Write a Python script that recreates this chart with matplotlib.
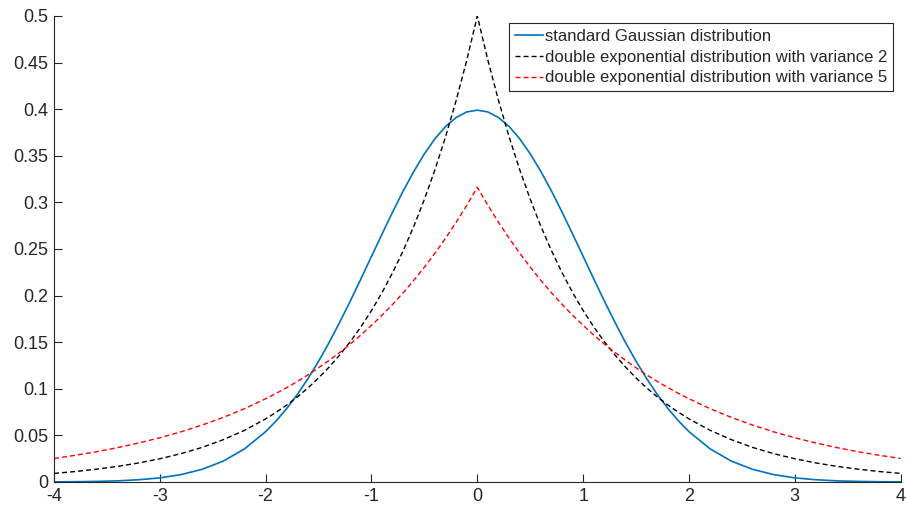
import numpy as np
import matplotlib
matplotlib.use("Agg")
from matplotlib import pyplot as plt

plt.rcParams['font.family'] = ['Liberation Sans', 'DejaVu Sans']

# Sample points on the positive half; the densities are symmetric about 0
x_half = [0.0, 0.1, 0.2, 0.3, 0.4, 0.5, 0.6, 0.7, 0.8, 0.9, 1.0,
          1.1, 1.2, 1.3, 1.4, 1.5, 1.6, 1.7, 1.8, 1.9, 2.0,
          2.2, 2.4, 2.6, 2.8, 3.0, 3.2, 3.4, 3.6, 3.8, 4.0]

gauss_half = [0.3989, 0.3970, 0.3910, 0.3814, 0.3683, 0.3521, 0.3332,
              0.3123, 0.2897, 0.2661, 0.2420, 0.2179, 0.1942, 0.1714,
              0.1497, 0.1295, 0.1109, 0.0940, 0.0790, 0.0656, 0.0540,
              0.0355, 0.0224, 0.0136, 0.0079, 0.0044, 0.0024, 0.0012,
              0.0006, 0.0003, 0.0001]

laplace2_half = [0.5000, 0.4524, 0.4094, 0.3704, 0.3352, 0.3033, 0.2744,
                 0.2483, 0.2247, 0.2033, 0.1839, 0.1664, 0.1506, 0.1363,
                 0.1233, 0.1116, 0.1009, 0.0913, 0.0826, 0.0748, 0.0677,
                 0.0554, 0.0454, 0.0371, 0.0304, 0.0249, 0.0204, 0.0167,
                 0.0137, 0.0112, 0.0092]

laplace5_half = [0.3162, 0.2968, 0.2786, 0.2616, 0.2455, 0.2305, 0.2164,
                 0.2031, 0.1906, 0.1790, 0.1680, 0.1577, 0.1480, 0.1390,
                 0.1305, 0.1225, 0.1149, 0.1079, 0.1013, 0.0951, 0.0893,
                 0.0786, 0.0693, 0.0611, 0.0538, 0.0474, 0.0418, 0.0368,
                 0.0324, 0.0286, 0.0252]

labels = ["standard Gaussian distribution",
          "double exponential distribution with variance 2",
          "double exponential distribution with variance 5"]

x_ticks = [-4, -3, -2, -1, 0, 1, 2, 3, 4]
y_ticks = [0, 0.05, 0.1, 0.15, 0.2, 0.25, 0.3, 0.35, 0.4, 0.45, 0.5]


def mirror(half):
    # Build the full symmetric series from the x >= 0 half
    half = np.asarray(half)
    return np.concatenate([half[:0:-1], half])


x = np.concatenate([-np.asarray(x_half)[:0:-1], np.asarray(x_half)])

fig = plt.figure(figsize=(9.06, 5.11), dpi=100)
ax = fig.add_axes([0.0596, 0.0568, 0.9345, 0.912])

ax.plot(x, mirror(gauss_half), color="#0072BD", lw=1.2, label=labels[0])
ax.plot(x, mirror(laplace2_half), color="black", lw=1.0,
        linestyle=(0, (3.6, 2.2)), label=labels[1])
ax.plot(x, mirror(laplace5_half), color="red", lw=1.0,
        linestyle=(0, (3.6, 2.2)), label=labels[2])

ax.set_xlim(-4, 4)
ax.set_ylim(0, 0.5)
ax.set_xticks(x_ticks)
ax.set_xticklabels([str(t) for t in x_ticks])
ax.set_yticks(y_ticks)
ax.set_yticklabels([f"{t:g}" for t in y_ticks])

# Only left and bottom axis lines, ticks pointing inward
for side in ("top", "right"):
    ax.spines[side].set_visible(False)
for side in ("left", "bottom"):
    ax.spines[side].set_color("#262626")
    ax.spines[side].set_linewidth(0.8)
ax.tick_params(direction="in", length=6, width=0.8, colors="#262626",
               labelsize=13, labelcolor="#262626", pad=4)

leg = ax.legend(loc="upper right", bbox_to_anchor=(0.991, 0.985),
                fontsize=12, fancybox=False, framealpha=1,
                edgecolor="#262626", handlelength=1.7, handletextpad=0.1,
                borderpad=0.35, labelspacing=0.35, borderaxespad=0)
leg.get_frame().set_linewidth(0.8)
for t in leg.get_texts():
    t.set_color("#262626")

fig.savefig("out.png", dpi=100)
